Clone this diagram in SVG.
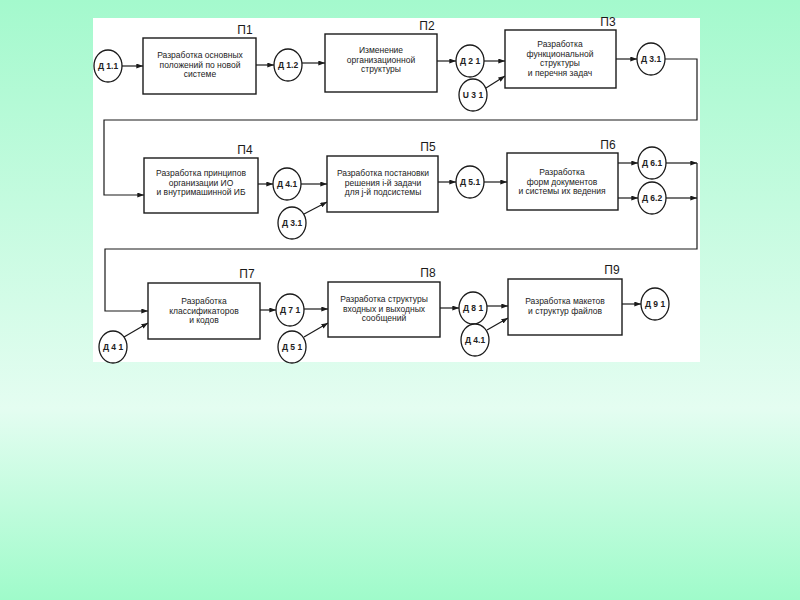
<svg xmlns="http://www.w3.org/2000/svg" width="800" height="600" viewBox="0 0 800 600">
<defs>
<linearGradient id="bg" x1="0" y1="0" x2="0" y2="1">
<stop offset="0" stop-color="#a4f9cd"/>
<stop offset="0.68" stop-color="#e4fdf1"/>
<stop offset="1" stop-color="#9ffbca"/>
</linearGradient>
<marker id="ar" viewBox="0 0 8 6" refX="8" refY="3" markerWidth="7" markerHeight="5" markerUnits="userSpaceOnUse" orient="auto">
<path d="M0,0 L8,3 L0,6 z" fill="#1a1a1a"/>
</marker>
<style>
.box{fill:#fff;stroke:#1a1a1a;stroke-width:1.4}
.c{fill:#fff;stroke:#1a1a1a;stroke-width:1.3}
.ln{fill:none;stroke:#1a1a1a;stroke-width:1.2}
.arr{marker-end:url(#ar)}
.t{font-family:"Liberation Sans",Arial,sans-serif;font-size:8.5px;fill:#222;text-anchor:middle}
.ct{font-family:"Liberation Sans",Arial,sans-serif;font-size:8.5px;font-weight:bold;fill:#222;text-anchor:middle}
.p{font-family:"Liberation Sans",Arial,sans-serif;font-size:12px;fill:#1a1a1a;text-anchor:middle}
</style>
</defs>
<rect x="0" y="0" width="800" height="600" fill="url(#bg)"/>
<rect x="93" y="18" width="607" height="344" fill="#fff"/>

<g id="connectors">
<path class="ln arr" d="M122,66 H143"/>
<path class="ln arr" d="M256,65 H274"/>
<path class="ln arr" d="M302,63 H325"/>
<path class="ln arr" d="M437,61 H456"/>
<path class="ln arr" d="M484,61 H505"/>
<path class="ln arr" d="M486,88 L505,76"/>
<path class="ln arr" d="M616,59 H637"/>
<path class="ln arr" d="M665,59 H697 V120 H104 V195 H144"/>
<path class="ln arr" d="M258,184 H273"/>
<path class="ln arr" d="M301,184 H327"/>
<path class="ln arr" d="M304,214 L327,202"/>
<path class="ln arr" d="M438,182 H456"/>
<path class="ln arr" d="M484,182 H507"/>
<path class="ln arr" d="M618,163 H638"/>
<path class="ln arr" d="M618,198 H638"/>
<path class="ln arr" d="M666,163 H697"/>
<path class="ln arr" d="M666,198 H697"/>
<path class="ln arr" d="M697,163 V249 H105 V311 H148"/>
<path class="ln arr" d="M124,337 L148,323"/>
<path class="ln arr" d="M260,310 H276"/>
<path class="ln arr" d="M304,309 H328"/>
<path class="ln arr" d="M304,337 L328,323"/>
<path class="ln arr" d="M440,308 H459"/>
<path class="ln arr" d="M487,306 H508"/>
<path class="ln arr" d="M487,330 L508,318"/>
<path class="ln arr" d="M622,304 H641"/>
</g>

<g id="P1"><rect class="box" x="143" y="38" width="113" height="56"/><text class="p" x="245" y="34">П1</text>
<text class="t" x="200" y="58">Разработка основных</text><text class="t" x="200" y="67.5">положений по новой</text><text class="t" x="200" y="77">системе</text></g>
<g id="P2"><rect class="box" x="325" y="34" width="112" height="58"/><text class="p" x="427" y="30">П2</text>
<text class="t" x="381" y="53">Изменение</text><text class="t" x="381" y="62.5">организационной</text><text class="t" x="381" y="72">структуры</text></g>
<g id="P3"><rect class="box" x="505" y="30" width="111" height="58"/><text class="p" x="608" y="26">П3</text>
<text class="t" x="560" y="47">Разработка</text><text class="t" x="560" y="56.5">функциональной</text><text class="t" x="560" y="66">структуры</text><text class="t" x="560" y="75.5">и перечня задач</text></g>
<g id="P4"><rect class="box" x="144" y="158" width="114" height="55"/><text class="p" x="245" y="154">П4</text>
<text class="t" x="201" y="176">Разработка принципов</text><text class="t" x="201" y="185.5">организации ИО</text><text class="t" x="201" y="195">и внутримашинной ИБ</text></g>
<g id="P5"><rect class="box" x="327" y="156" width="111" height="56"/><text class="p" x="428" y="151">П5</text>
<text class="t" x="383" y="176">Разработка постановки</text><text class="t" x="383" y="185.5">решения i-й задачи</text><text class="t" x="383" y="195">для j-й подсистемы</text></g>
<g id="P6"><rect class="box" x="507" y="153" width="111" height="57"/><text class="p" x="608" y="149">П6</text>
<text class="t" x="562" y="175">Разработка</text><text class="t" x="562" y="184.5">форм документов</text><text class="t" x="562" y="194">и системы их ведения</text></g>
<g id="P7"><rect class="box" x="148" y="283" width="112" height="56"/><text class="p" x="247" y="278">П7</text>
<text class="t" x="204" y="304">Разработка</text><text class="t" x="204" y="313.5">классификаторов</text><text class="t" x="204" y="323">и кодов</text></g>
<g id="P8"><rect class="box" x="328" y="282" width="112" height="55"/><text class="p" x="428" y="277">П8</text>
<text class="t" x="384" y="302">Разработка структуры</text><text class="t" x="384" y="311.5">входных и выходных</text><text class="t" x="384" y="321">сообщений</text></g>
<g id="P9"><rect class="box" x="508" y="279" width="114" height="56"/><text class="p" x="612" y="274">П9</text>
<text class="t" x="565" y="304">Разработка макетов</text><text class="t" x="565" y="313.5">и структур файлов</text></g>

<g id="D11"><ellipse class="c" cx="108" cy="66" rx="14" ry="16"/><text class="ct" x="108" y="69">Д 1.1</text></g>
<g id="D12"><ellipse class="c" cx="288" cy="65" rx="14" ry="16"/><text class="ct" x="288" y="68">Д 1.2</text></g>
<g id="D21"><ellipse class="c" cx="470" cy="61" rx="14" ry="16"/><text class="ct" x="470" y="64">Д 2 1</text></g>
<g id="U31"><ellipse class="c" cx="473" cy="95" rx="14" ry="16"/><text class="ct" x="473" y="98">U 3 1</text></g>
<g id="D31"><ellipse class="c" cx="651" cy="59" rx="14" ry="16"/><text class="ct" x="651" y="62">Д 3.1</text></g>
<g id="D41"><ellipse class="c" cx="287" cy="184" rx="14" ry="16"/><text class="ct" x="287" y="187">Д 4.1</text></g>
<g id="D31b"><ellipse class="c" cx="292" cy="223" rx="14" ry="16"/><text class="ct" x="292" y="226">Д 3.1</text></g>
<g id="D51"><ellipse class="c" cx="470" cy="182" rx="14" ry="16"/><text class="ct" x="470" y="185">Д 5.1</text></g>
<g id="D61"><ellipse class="c" cx="652" cy="163" rx="14" ry="16"/><text class="ct" x="652" y="166">Д 6.1</text></g>
<g id="D62"><ellipse class="c" cx="652" cy="198" rx="14" ry="16"/><text class="ct" x="652" y="201">Д 6.2</text></g>
<g id="D41b"><ellipse class="c" cx="113" cy="347" rx="14" ry="16"/><text class="ct" x="113" y="350">Д 4 1</text></g>
<g id="D71"><ellipse class="c" cx="290" cy="310" rx="14" ry="16"/><text class="ct" x="290" y="313">Д 7 1</text></g>
<g id="D51b"><ellipse class="c" cx="292" cy="347" rx="14" ry="16"/><text class="ct" x="292" y="350">Д 5 1</text></g>
<g id="D81"><ellipse class="c" cx="473" cy="308" rx="14" ry="16"/><text class="ct" x="473" y="311">Д 8 1</text></g>
<g id="D41c"><ellipse class="c" cx="475" cy="340" rx="14" ry="16"/><text class="ct" x="475" y="343">Д 4.1</text></g>
<g id="D91"><ellipse class="c" cx="655" cy="304" rx="14" ry="16"/><text class="ct" x="655" y="307">Д 9 1</text></g>
</svg>
